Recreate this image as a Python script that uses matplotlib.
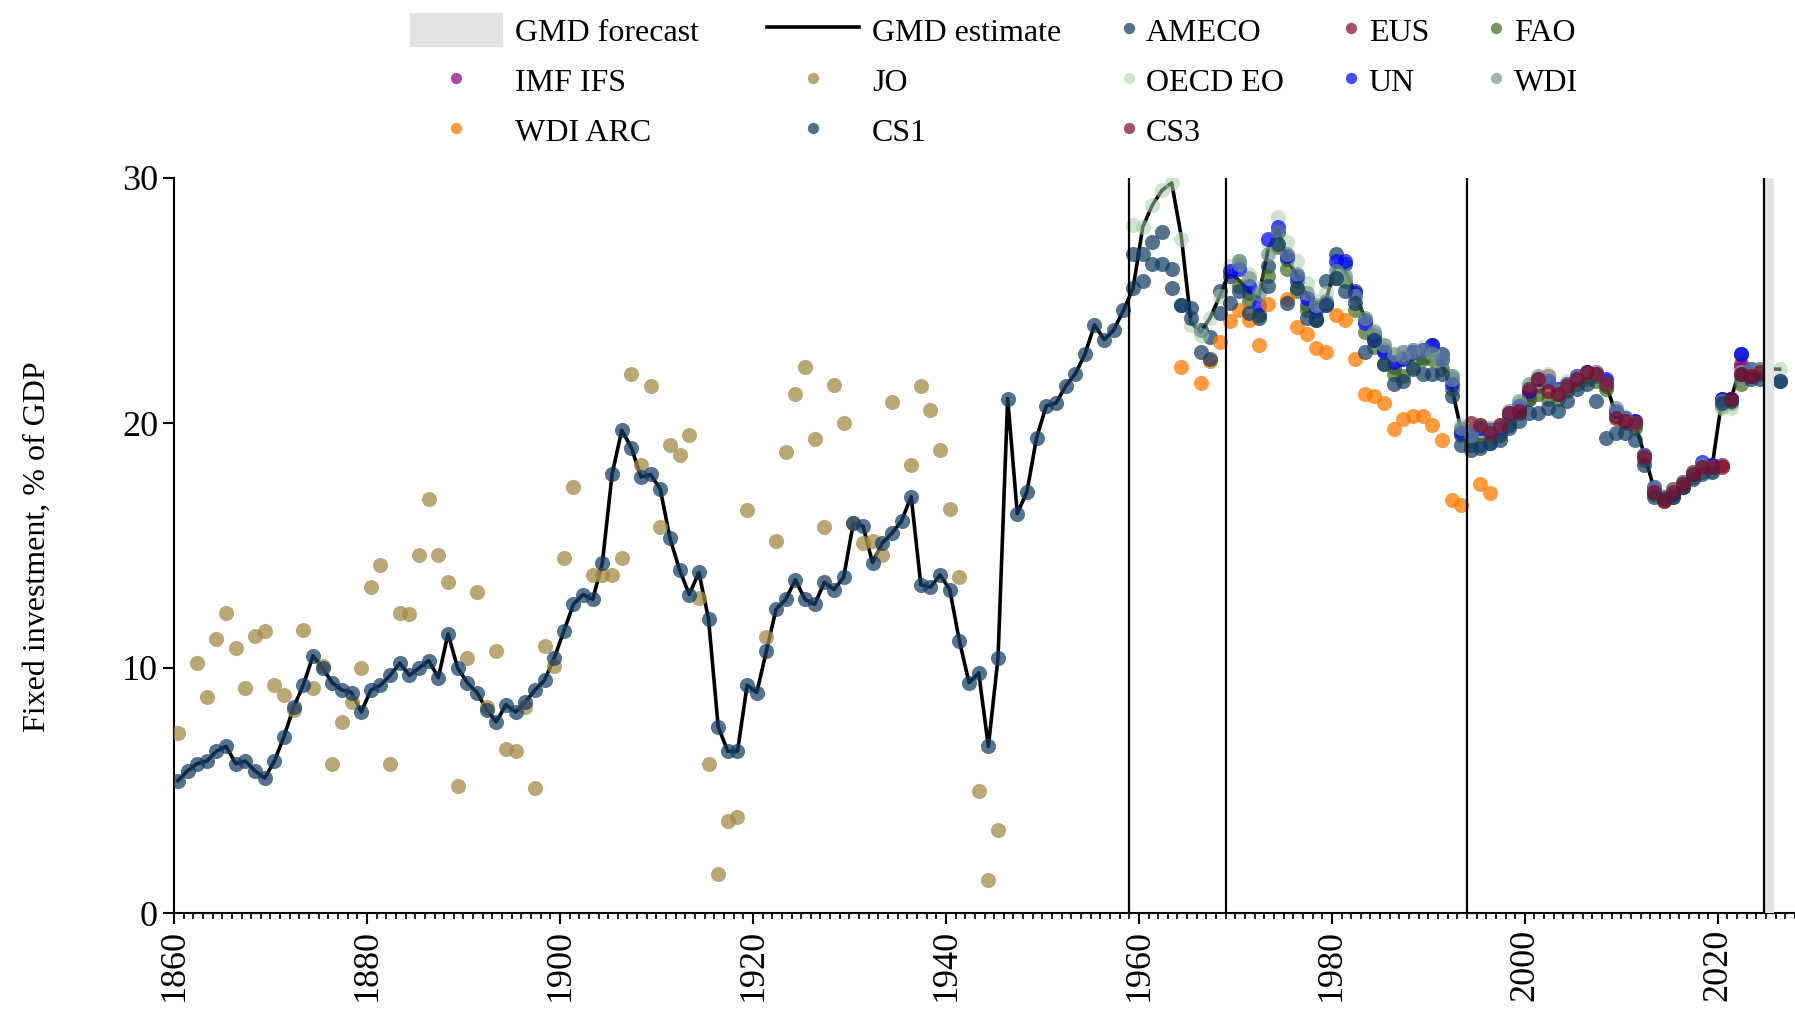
import numpy as np
import matplotlib
matplotlib.use('Agg')
import matplotlib.pyplot as plt
from matplotlib.patches import Patch
from matplotlib.lines import Line2D

plt.rcParams['font.family'] = ['Liberation Serif', 'DejaVu Serif']

nan = np.nan

# ---- data ----
# CS1, 1860-1959 (GMD estimate follows it until 1958)
cs1_early = [
    5.4, 5.8, 6.1, 6.2, 6.6, 6.8, 6.1, 6.2, 5.8, 5.5,
    6.2, 7.2, 8.4, 9.3, 10.5, 10.0, 9.4, 9.1, 9.0, 8.2,
    9.1, 9.3, 9.7, 10.2, 9.7, 10.0, 10.3, 9.6, 11.4, 10.0,
    9.4, 9.0, 8.3, 7.8, 8.5, 8.2, 8.6, 9.1, 9.5, 10.4,
    11.5, 12.6, 13.0, 12.8, 14.3, 17.9, 19.7, 19.0, 17.8, 17.9,
    17.3, 15.3, 14.0, 13.0, 13.9, 12.0, 7.6, 6.6, 6.6, 9.3,
    9.0, 10.7, 12.4, 12.8, 13.6, 12.8, 12.6, 13.5, 13.2, 13.7,
    15.9, 15.8, 14.3, 15.1, 15.5, 16.0, 17.0, 13.4, 13.3, 13.8,
    13.2, 11.1, 9.4, 9.8, 6.8, 10.4, 21.0, 16.3, 17.2, 19.4,
    20.7, 20.8, 21.5, 22.0, 22.8, 24.0, 23.4, 23.8, 24.6, 25.5,
]
# CS1, 1960-2026 (no 2025 value shown)
cs1_late = [
    26.9, 26.5, 26.5, 25.5, 24.8, 24.3, 22.9, 22.6, 24.5, 24.9,
    25.4, 24.5, 24.3, 25.6, 27.3, 24.9, 25.5, 24.3, 24.2, 24.8,
    25.9, 25.4, 24.9, 22.9, 23.4, 22.4, 21.6, 21.7, 22.2, 22.0,
    22.0, 22.0, 21.1, 19.1, 18.9, 19.0, 19.2, 19.3, 19.8, 20.1,
    20.4, 20.4, 20.6, 20.5, 20.9, 21.4, 21.6, 20.9, 19.4, 19.6,
    19.6, 19.3, 18.3, 17.0, 16.9, 17.0, 17.4, 17.7, 17.9, 18.0,
    20.8, 20.9, 22.0, 21.8, 21.8, nan, 21.7,
]
# GMD estimate, 1959-2026
gmd_late = [
    25.5, 28.0, 28.9, 29.5, 29.8, 27.6, 24.1, 23.7, 24.3, 25.2,
    26.2, 25.8, 25.4, 25.1, 27.1, 27.9, 26.7, 26.0, 25.2, 24.9,
    25.0, 26.5, 26.2, 25.3, 24.3, 23.6, 23.0, 22.6, 22.4, 22.6,
    22.8, 22.8, 22.4, 21.5, 19.7, 19.4, 19.9, 19.7, 19.7, 20.3,
    20.6, 21.2, 21.6, 21.8, 21.3, 21.5, 21.8, 22.0, 22.0, 21.6,
    20.4, 20.1, 20.0, 18.7, 17.3, 16.9, 17.2, 17.5, 17.9, 18.1,
    18.2, 20.9, 21.0, 22.4, 22.0, 22.2, 22.2, 22.2,
]
# AMECO, 1959-2026
ameco = [
    26.9, 25.8, 27.4, 27.8, 26.3, 24.8, 24.7, 23.8, 23.5, 25.4,
    26.0, 26.6, 25.3, 24.4, 26.4, 27.8, 26.7, 25.8, 24.8, 24.2,
    25.8, 26.9, 26.5, 25.4, 24.2, 23.6, 23.0, 22.3, 22.9, 23.0,
    22.7, 23.2, 22.8, 21.9, 19.7, 19.1, 19.1, 19.2, 19.5, 19.9,
    20.4, 21.0, 21.5, 21.7, 21.2, 21.4, 21.8, 21.9, 21.9, 21.5,
    20.4, 20.1, 19.9, 18.6, 17.2, 16.9, 17.1, 17.4, 17.8, 18.1,
    18.2, 21.0, 21.0, 22.8, 22.0, 22.0, nan, 21.7,
]
# OECD EO, 1959-2026
oecd = [
    28.1, 28.0, 28.9, 29.5, 29.8, 27.5, 24.0, 23.6, 24.3, 25.2,
    26.4, 26.6, 26.1, 25.5, 27.4, 28.4, 27.4, 26.6, 25.7, 25.0,
    25.3, 26.4, 25.9, 25.1, 24.1, 23.8, 23.2, 22.7, 22.9, 23.0,
    23.1, 22.9, 22.6, 21.9, 19.9, 19.5, 19.7, 19.6, 19.8, 20.4,
    20.8, 21.5, 21.7, 22.0, 21.4, 21.7, 21.9, 22.1, 22.1, 21.7,
    20.4, 20.3, 20.0, 18.6, 17.3, 16.9, 17.2, 17.5, 17.8, 18.1,
    18.0, 20.6, 20.6, 22.1, 22.1, 22.2, nan, 22.2,
]
# UN, 1969-2023
un = [
    26.2, 26.3, 25.6, 24.8, 27.5, 28.0, 26.8, 26.0, 25.1, 24.6,
    24.9, 26.6, 26.6, 25.3, 24.1, 23.4, 22.9, 22.5, 22.6, 22.9,
    23.0, 23.2, 22.6, 21.6, 19.6, 19.5, 19.8, 19.7, 19.8, 20.4,
    20.7, 21.3, 21.8, 21.7, 21.4, 21.6, 21.9, 22.1, 22.0, 21.8,
    20.5, 20.2, 20.1, 18.7, 17.4, 17.0, 17.1, 17.5, 17.9, 18.4,
    18.3, 21.0, 21.0, 22.8, 22.2,
]
# FAO, 1970-2023
fao = [
    25.6, 25.0, 24.4, 26.0, 27.2, 26.3, 25.4, 24.6, 24.3, 24.8,
    25.9, 25.8, 24.6, 23.7, 23.1, 22.4, 22.0, 21.9, 22.3, 22.6,
    22.6, 22.2, 21.4, 19.5, 19.3, 19.6, 19.5, 19.6, 20.1, 20.5,
    21.0, 21.2, 21.0, 21.0, 21.3, 21.6, 21.8, 21.7, 21.4, 20.3,
    20.0, 19.8, 18.5, 17.1, 16.8, 17.0, 17.4, 17.8, 18.0, 18.1,
    20.7, 20.8, 21.6, 22.0,
]
# WDI, 1970-2024
wdi = [
    26.5, 25.9, 25.3, 26.9, 27.8, 26.9, 26.1, 25.3, 24.8, 25.0,
    26.2, 26.0, 25.2, 24.3, 23.7, 23.2, 22.8, 22.7, 22.9, 23.0,
    22.8, 22.6, 21.8, 19.8, 19.5, 19.9, 19.8, 19.9, 20.5, 20.9,
    21.6, 21.9, 21.7, 21.3, 21.6, 21.9, 22.0, 22.0, 21.6, 20.6,
    20.2, 20.0, 18.7, 17.4, 17.0, 17.3, 17.6, 18.0, 18.3, 18.2,
    20.9, 20.9, 21.8, 22.2, 22.2,
]
# EUS, 1994-2024
eus = [
    20.0, 19.8, 19.7, 19.8, 20.3, 20.6, 21.2, 21.6, 21.9, 21.3,
    21.6, 21.9, 22.0, 22.1, 21.7, 20.3, 20.2, 20.1, 18.7, 17.3,
    16.9, 17.3, 17.6, 18.0, 18.2, 18.3, 18.3, 21.0, 22.4, 22.0,
    22.2,
]
# CS3, 1995-2024
cs3 = [
    19.9, 19.6, 19.9, 20.4, 20.5, 21.4, 21.8, 21.3, 21.2, 21.5,
    21.8, 22.1, 22.0, 21.6, 20.2, 20.1, 20.0, 18.6, 17.2, 16.8,
    17.2, 17.5, 17.9, 18.2, 18.2, 18.2, 21.0, 22.0, 21.9, 22.1,
]
# IMF IFS
imf_years = [2022, 2023]
imf = [22.3, 21.9]
# WDI ARC
wdiarc_years = [1964, 1966, 1967, 1968, 1969, 1970, 1971, 1972, 1973, 1975,
                1976, 1977, 1978, 1979, 1980, 1981, 1982, 1983, 1984, 1985,
                1986, 1987, 1988, 1989, 1990, 1991, 1992, 1993, 1995, 1996]
wdiarc = [22.3, 21.65, 22.55, 23.3, 24.15, 24.6, 24.2, 23.2, 24.85, 25.05,
          23.9, 23.65, 23.05, 22.9, 24.4, 24.2, 22.6, 21.2, 21.1, 20.8,
          19.75, 20.15, 20.3, 20.3, 19.9, 19.3, 16.85, 16.65, 17.5, 17.15]
# JO
jo_years = [1860, 1862, 1863, 1864, 1865, 1866, 1867, 1868, 1869, 1870,
            1871, 1872, 1873, 1874, 1875, 1876, 1877, 1878, 1879, 1880,
            1881, 1882, 1883, 1884, 1885, 1886, 1887, 1888, 1889, 1890,
            1891, 1892, 1893, 1894, 1895, 1896, 1897, 1898, 1899, 1900,
            1901, 1903, 1904, 1905, 1906, 1907, 1908, 1909, 1910, 1911,
            1912, 1913, 1914, 1915, 1916, 1917, 1918, 1919, 1921, 1922,
            1923, 1924, 1925, 1926, 1927, 1928, 1929, 1930, 1931, 1932,
            1933, 1934, 1936, 1937, 1938, 1939, 1940, 1941, 1943, 1944,
            1945]
jo = [7.35, 10.2, 8.8, 11.2, 12.25, 10.8, 9.2, 11.3, 11.5, 9.3,
      8.9, 8.3, 11.55, 9.2, 10.1, 6.1, 7.8, 8.6, 10.0, 13.3,
      14.2, 6.1, 12.25, 12.2, 14.6, 16.9, 14.6, 13.5, 5.2, 10.4,
      13.1, 8.4, 10.7, 6.7, 6.6, 8.4, 5.1, 10.9, 10.1, 14.5,
      17.4, 13.8, 13.8, 13.8, 14.5, 22.0, 18.3, 21.5, 15.75, 19.1,
      18.7, 19.5, 12.85, 6.1, 1.6, 3.75, 3.9, 16.45, 11.25, 15.2,
      18.8, 21.2, 22.3, 19.35, 15.75, 21.55, 20.0, 15.9, 15.1, 15.2,
      14.6, 20.85, 18.3, 21.5, 20.55, 18.9, 16.5, 13.7, 5.0, 1.35,
      3.4]

break_years = [1959, 1969, 1994, 2024.8]
forecast_span = (2024.8, 2025.8)
MID = 0.4  # observations sit a little inside their year, breaks on the boundary


def pos(years):
    return np.asarray(years) + MID


# ---- figure ----
W, H = 1795, 1017
fig = plt.figure(figsize=(W / 100, H / 100), dpi=100)
ax = fig.add_axes([174 / W, 1 - 913 / H, (W - 174) / W, (913 - 178) / H])

gmd_years = np.arange(1860, 2027)
gmd = np.concatenate([cs1_early[:-1], gmd_late])

ax.plot(pos(gmd_years), gmd, color='black', lw=2.6, zorder=2)

S = 118
kw = dict(s=S, linewidths=0, zorder=3)
h_ameco = ax.scatter(pos(np.arange(1959, 2027)), ameco, color='#143c64', alpha=0.72, label='AMECO', **kw)
h_eus = ax.scatter(pos(np.arange(1994, 2025)), eus, color='#7d0a26', alpha=0.7, label='EUS', **kw)
h_fao = ax.scatter(pos(np.arange(1970, 2024)), fao, color='#3f6b1c', alpha=0.7, label='FAO', **kw)
h_imf = ax.scatter(pos(imf_years), imf, color='#8e0f8e', alpha=0.75, label='IMF IFS', **kw)
h_jo = ax.scatter(pos(jo_years), jo, color='#a38a48', alpha=0.75, label='JO', **kw)
h_oecd = ax.scatter(pos(np.arange(1959, 2027)), oecd, color='#a9d0a9', alpha=0.55, label='OECD EO', **kw)
h_un = ax.scatter(pos(np.arange(1969, 2024)), un, color='#0000ff', alpha=0.7, label='UN', **kw)
h_wdi = ax.scatter(pos(np.arange(1970, 2025)), wdi, color='#6b8f86', alpha=0.65, label='WDI', **kw)
h_arc = ax.scatter(pos(wdiarc_years), wdiarc, color='#ff7a00', alpha=0.75, label='WDI ARC', **kw)
h_cs1 = ax.scatter(pos(np.arange(1860, 1960)), cs1_early, color='#143c64', alpha=0.72, label='CS1', **kw)
ax.scatter(pos(np.arange(1960, 2027)), cs1_late, color='#143c64', alpha=0.72, **kw)
h_cs3 = ax.scatter(pos(np.arange(1995, 2025)), cs3, color='#7d0a26', alpha=0.7, label='CS3', **kw)

ax.axvspan(*forecast_span, color='#e3e3e3', lw=0, zorder=4)
for x in break_years:
    ax.axvline(x, color='black', lw=1.6, zorder=5)

ax.set_xlim(1860, 2028)
ax.set_ylim(0, 30)
ax.set_xticks(np.arange(1860, 2021, 20))
ax.set_xticks(np.arange(1860, 2029), minor=True)
ax.set_yticks([0, 10, 20, 30])
ax.tick_params(axis='x', which='major', labelrotation=90)
ax.tick_params(which='major', labelsize=26, length=8, width=1.5)
ax.tick_params(which='minor', length=4, width=1.2)
for side in ['top', 'right']:
    ax.spines[side].set_visible(False)
for side in ['left', 'bottom']:
    ax.spines[side].set_linewidth(1.5)

fig.text(37 / W, 1 - 547 / H, 'Fixed investment, % of GDP', rotation=90,
         ha='center', va='center', fontsize=23)

# legends
h_fc = Patch(facecolor='#e3e3e3', edgecolor='none', label='GMD forecast')
h_gmd = Line2D([], [], color='black', lw=2.6, label='GMD estimate')
lkw = dict(frameon=False, fontsize=23, handleheight=1.25, labelspacing=0.48,
           markerscale=0.75, borderpad=0, borderaxespad=0, loc='upper left')
fig.legend(handles=[h_fc, h_imf, h_arc, h_gmd, h_jo, h_cs1], ncol=2,
           bbox_to_anchor=(410 / W, 1 - 13 / H), handlelength=2.9,
           handletextpad=0.4, columnspacing=2.1, **lkw)
fig.legend(handles=[h_ameco, h_oecd, h_cs3, h_eus, h_un, h_fao, h_wdi], ncol=3,
           bbox_to_anchor=(1119 / W, 1 - 13 / H), handlelength=0.6,
           handletextpad=0.25, columnspacing=1.8, **lkw)

fig.savefig('out.png', dpi=100)
